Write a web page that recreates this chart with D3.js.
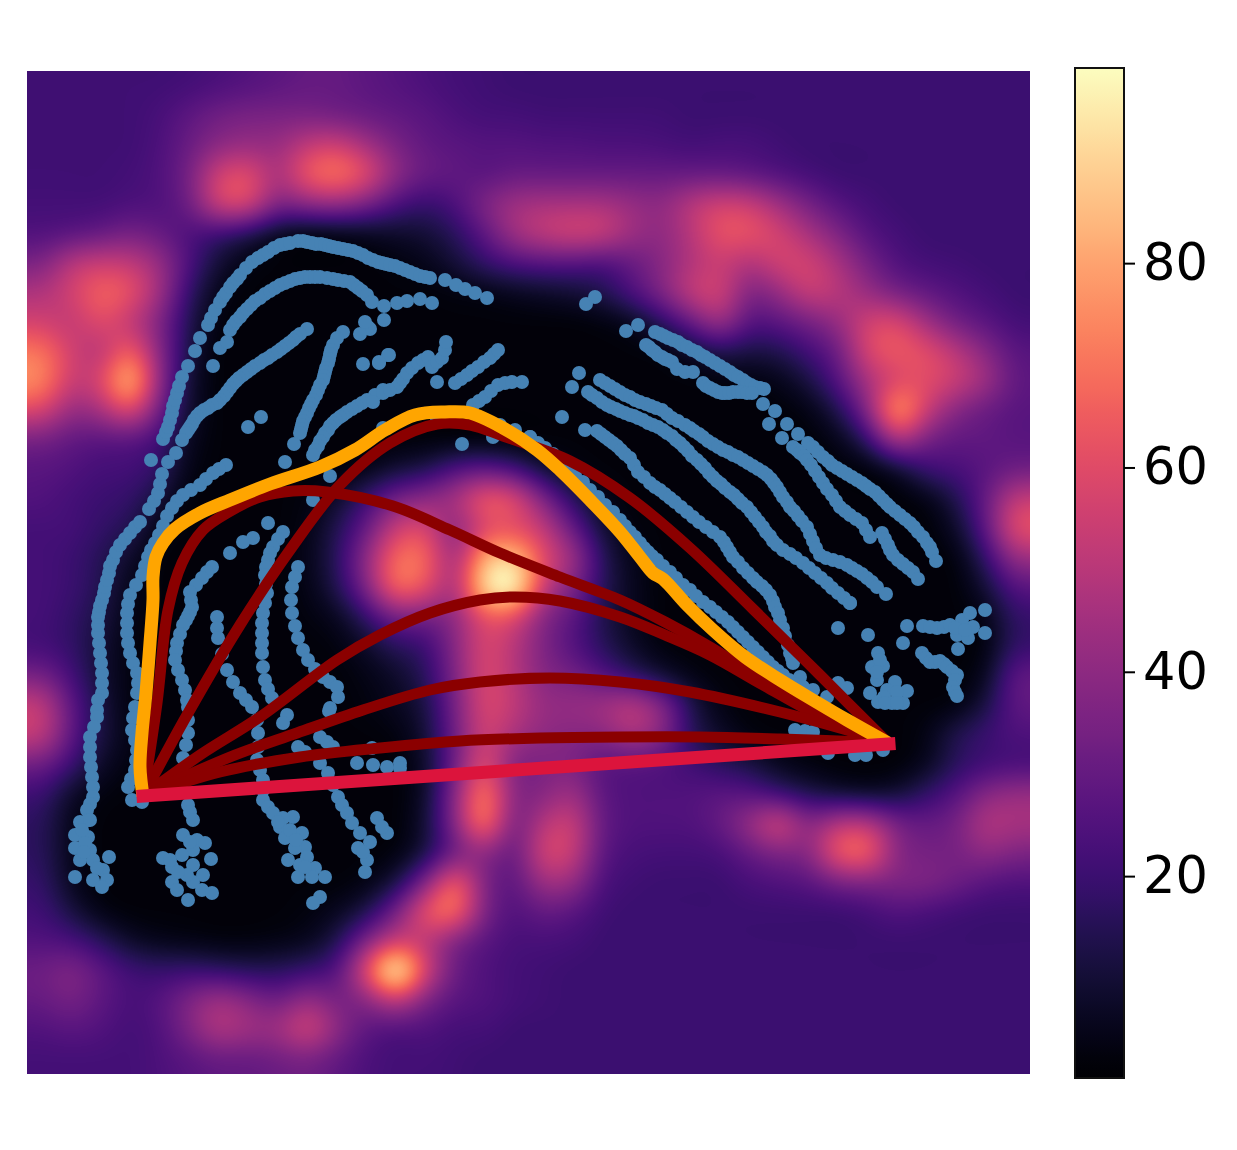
<!DOCTYPE html>
<html><head><meta charset="utf-8">
<style>html,body{margin:0;padding:0;background:#fff}svg{display:block}text{font-family:"DejaVu Sans",sans-serif}</style>
<script src="https://cdn.jsdelivr.net/npm/d3@7"></script>
</head><body><div id="chart"></div>
<script>
const heatRows = [
[21,21,21,21,21,22,24,26,28,30,30,28,26,24,22,21,20,20,20,20,20,20,20,20,20,20,20,20,20,20,20,20,20,20],
[21,21,21,21,23,28,33,35,35,35,33,31,29,27,24,22,22,21,21,21,21,21,20,20,20,20,20,20,20,20,20,20,20,20],
[21,21,21,21,24,31,39,42,42,52,55,45,35,29,27,26,26,25,25,24,24,23,22,23,23,21,20,20,20,20,20,20,20,20],
[21,21,21,22,25,34,56,60,46,64,70,60,40,31,29,27,30,30,30,30,30,30,30,30,28,25,22,20,20,20,20,20,20,20],
[22,22,22,24,25,32,56,58,36,40,42,35,24,19,24,36,44,46,46,46,42,40,50,56,54,44,34,26,22,20,20,20,20,20],
[25,27,30,34,30,24,20,14,6,3,4,6,8,10,16,28,44,52,56,54,44,40,50,62,62,56,46,36,26,22,20,20,20,20],
[36,50,54,52,42,24,10,4,2,2,2,2,3,5,10,18,24,26,26,24,30,38,48,54,48,56,56,46,34,25,22,21,20,20],
[48,56,66,62,44,18,5,2,2,2,2,2,2,2,3,4,6,8,10,14,24,36,52,56,36,42,54,50,42,34,29,25,22,20],
[56,52,60,52,36,14,3,2,2,2,2,2,2,2,2,2,2,2,2,3,6,16,30,44,26,28,34,42,56,58,44,33,27,22],
[70,56,50,66,38,12,2,2,2,2,2,2,2,2,2,2,2,2,2,2,2,3,8,14,12,14,22,32,58,64,60,50,38,27],
[74,54,58,84,40,10,2,2,2,2,2,2,2,2,2,2,2,2,2,2,2,2,2,3,3,5,12,26,46,58,60,54,44,29],
[58,42,46,60,32,9,2,2,2,2,2,2,2,2,2,2,2,2,2,2,2,2,2,2,2,2,4,14,38,78,54,38,31,27],
[34,29,27,27,21,6,2,2,2,2,2,2,2,2,2,2,2,2,2,2,2,2,2,2,2,2,2,5,18,48,34,29,29,27],
[27,25,22,22,17,4,2,2,2,2,2,4,10,14,24,28,22,10,4,2,2,2,2,2,2,2,2,2,2,8,20,23,27,32],
[25,22,20,18,10,2,2,2,2,3,8,20,34,40,46,64,60,36,16,5,2,2,2,2,2,2,2,2,2,2,4,14,30,52],
[22,22,18,14,4,2,2,2,2,4,14,30,54,58,38,58,60,52,30,10,3,2,2,2,2,2,2,2,2,2,2,8,28,60],
[22,20,15,8,2,2,2,2,2,5,16,40,68,68,44,82,88,60,44,16,5,2,2,2,2,2,2,2,2,2,2,3,18,42],
[22,20,14,5,2,2,2,2,2,4,14,36,68,62,46,92,100,54,36,16,6,2,2,2,2,2,2,2,2,2,2,2,10,26],
[22,18,12,4,2,2,2,2,2,3,6,18,34,34,40,62,60,38,28,14,6,2,2,2,2,2,2,2,2,2,2,2,4,18],
[22,18,10,3,2,2,2,2,2,2,3,8,16,20,38,58,50,36,26,16,8,3,2,2,2,2,2,2,2,2,2,2,3,18],
[34,22,10,3,2,2,2,2,2,2,2,4,8,16,36,58,50,38,34,26,18,10,4,2,2,2,2,2,2,2,2,2,6,28],
[52,28,12,3,2,2,2,2,2,2,2,3,6,12,34,58,52,42,42,44,50,38,14,4,2,2,2,2,2,2,2,3,12,28],
[52,28,12,4,2,2,2,2,2,2,2,2,3,10,32,56,46,40,38,38,46,38,16,8,3,2,2,2,2,2,4,14,20,24],
[32,20,8,3,2,2,2,2,2,2,2,2,2,8,32,60,36,36,36,27,27,25,21,16,12,6,3,2,2,2,6,16,21,23],
[20,8,3,2,2,2,2,2,2,2,2,2,2,8,38,72,38,38,44,28,25,25,25,27,26,20,14,10,8,10,18,26,38,42],
[16,5,2,2,2,2,2,2,2,2,2,2,2,10,38,72,34,50,54,30,25,25,25,30,42,56,38,50,50,34,30,34,48,46],
[16,5,2,2,2,2,2,2,2,2,2,2,3,12,32,40,30,56,54,28,23,22,22,23,30,36,38,64,66,38,34,34,40,36],
[18,6,2,2,2,2,2,2,2,2,2,4,12,36,66,36,28,44,42,24,21,20,20,20,23,25,27,34,36,36,36,32,27,25],
[21,12,4,2,2,2,2,2,2,3,6,14,34,62,70,36,25,30,27,21,20,20,20,20,20,20,20,20,22,25,23,21,20,20],
[25,23,16,8,5,4,3,3,4,6,14,36,54,50,36,27,23,23,22,20,20,20,20,20,20,20,20,20,20,20,20,20,20,20],
[32,36,28,21,19,20,18,16,16,20,26,60,100,58,32,25,22,21,20,20,20,20,20,20,20,20,20,20,20,20,20,20,20,20],
[30,34,28,23,26,36,44,38,32,42,34,38,52,36,27,25,22,21,20,20,20,20,20,20,20,20,20,20,20,20,20,20,20,20],
[25,27,25,22,25,36,48,44,44,56,40,28,25,25,22,22,20,20,20,20,20,20,20,20,20,20,20,20,20,20,20,20,20,20],
[22,22,22,22,24,27,30,30,32,34,29,24,22,22,21,20,20,20,20,20,20,20,20,20,20,20,20,20,20,20,20,20,20,20]
];
const colorDomain = [0.2, 99.1];
const colorTicks = [20, 40, 60, 80];

const leftTrack = [[102,693],[102,683],[102,673],[101,663],[100,653],[99,643],[98,633],[98,625],[98,617],[99,612],[100,606],[102,600],[104,593],[105,587],[107,580],[109,573],[110,566],[113,560],[116,552],[120,545],[125,539],[130,533],[135,527],[140,522],[98,700],[97,710],[97,717],[94,727],[90,737],[90,747],[90,757],[91,767],[92,777],[93,787],[93,797],[90,804],[87,810],[88,820]];
const outerTop = [[149,509],[154,501],[158,493],[160,484],[162,474],[168,462],[176,453],[151,460],[163,439],[166,432],[168,427],[170,420],[172,413],[173,406],[175,400],[177,393],[179,386],[182,377],[188,366],[195,351],[200,338],[208,325],[211,318],[215,310],[220,302],[223,297],[226,293],[230,287],[233,283],[237,279],[240,275],[246,268],[252,262],[258,258],[263,255],[268,252],[274,248],[280,245],[285,244],[290,243],[298,241],[303,241],[307,242],[312,243],[316,244],[321,244],[325,245],[329,246],[333,247],[338,248],[343,249],[348,250],[353,251],[358,253],[363,255],[368,258],[373,260],[378,262],[382,263],[386,264],[390,265],[395,266],[400,268],[405,270],[410,272],[415,274],[420,276],[425,277],[430,278],[445,280],[456,285],[465,289],[475,293],[487,298]];
const secondTop = [[220,348],[227,342],[230,330],[233,325],[236,321],[240,317],[243,313],[247,309],[251,305],[255,301],[260,298],[265,294],[270,291],[275,288],[280,285],[285,283],[290,281],[295,279],[300,278],[305,277],[310,277],[315,277],[320,277],[327,278],[333,279],[338,280],[344,281],[350,282],[354,285],[358,288],[362,291],[367,295],[372,302],[384,306],[397,303],[407,301],[420,299],[432,303],[384,320],[370,329],[368,327],[360,334],[365,322]];
const thirdTop = [[307,329],[300,334],[296,337],[293,340],[289,343],[285,346],[281,349],[277,352],[272,355],[268,358],[264,360],[260,363],[255,366],[251,369],[247,372],[243,375],[239,378],[236,381],[233,384],[230,388],[227,392],[224,396],[220,400],[217,403],[212,405],[208,408],[204,410],[200,413],[197,416],[194,420],[192,424],[190,427],[188,430],[186,433],[182,440],[213,366],[248,427],[261,417]];
const fourthTop = [[343,332],[337,338],[333,345],[331,350],[330,354],[329,359],[328,363],[326,368],[325,372],[324,376],[323,380],[320,385],[318,390],[316,395],[313,400],[311,404],[309,408],[307,413],[305,417],[303,421],[302,425],[301,429],[300,433],[294,444],[285,462],[363,364],[379,363],[388,355]];
const innerLeft = [[226,465],[219,469],[213,473],[206,479],[200,485],[191,490],[183,495],[177,501],[172,508],[167,516],[163,526],[159,535],[155,543],[151,550],[148,557],[145,566],[142,575],[136,585],[130,595],[128,604],[127,613],[127,623],[127,633],[128,643],[130,653],[133,663],[137,673],[138,683],[137,693],[135,707],[133,718],[132,730],[135,740],[137,750],[136,760],[135,770],[131,779],[128,787],[132,800],[142,802]];
const arcCenter = [[383,390],[375,395],[367,400],[362,403],[357,406],[352,409],[347,412],[343,415],[340,417],[336,420],[333,423],[330,426],[328,430],[325,433],[323,437],[320,441],[318,446],[315,450],[313,455],[330,476],[313,500],[373,402],[383,393],[390,390],[397,387],[400,383],[403,379],[407,373],[412,368],[418,363],[423,360],[428,357],[432,367],[437,362],[442,358],[445,350],[446,342],[389,355],[379,362],[437,382],[455,383],[461,379],[467,375],[472,371],[478,367],[484,362],[490,358],[494,354],[498,350],[473,405],[479,401],[485,397],[491,391],[498,385],[505,383],[512,382],[522,382],[383,428],[437,420],[462,444],[493,437],[530,437],[579,373],[572,387],[562,417],[586,304],[595,297]];
const upperRightA = [[626,331],[638,325],[655,332],[660,334],[664,336],[668,338],[673,340],[678,342],[682,345],[687,347],[692,350],[697,352],[701,355],[705,357],[710,360],[715,363],[720,366],[725,369],[730,372],[734,375],[738,377],[743,380],[747,383],[751,385],[755,387],[760,388],[764,389],[646,345],[649,347],[652,350],[655,352],[658,355],[662,357],[665,359],[668,360],[672,362],[677,369],[685,372],[693,372],[703,383],[706,386],[710,388],[714,390],[718,392],[722,393],[725,393],[729,393],[733,392],[738,392],[742,392],[747,393],[752,393]];
const upperRightB = [[763,404],[775,411],[769,424],[787,424],[782,438],[798,434],[808,443],[813,447],[818,452],[823,457],[828,461],[832,465],[837,468],[842,471],[847,474],[852,477],[857,480],[862,483],[866,486],[870,489],[875,492],[879,496],[883,500],[887,504],[890,507],[895,511],[900,515],[905,519],[910,523],[914,527],[918,532],[923,537],[927,543],[930,547],[932,552],[936,561]];
const upperRightC = [[793,447],[797,450],[800,453],[804,456],[807,460],[811,465],[815,471],[819,477],[823,483],[827,489],[832,495],[836,501],[840,507],[845,511],[850,515],[856,519],[862,523],[866,530],[870,537],[882,533],[885,539],[888,545],[890,550],[893,555],[898,560],[903,564],[908,568],[913,572],[918,579]];
const midTrackA = [[600,380],[605,383],[610,386],[615,389],[620,392],[625,395],[630,397],[635,400],[640,402],[646,404],[651,406],[656,408],[662,410],[667,414],[672,418],[678,421],[685,425],[690,428],[694,431],[699,434],[703,437],[708,441],[713,444],[718,447],[723,450],[728,452],[733,455],[738,457],[743,460],[748,463],[753,466],[758,469],[763,472],[767,475],[771,479],[774,483],[777,487],[780,492],[783,497],[787,502],[790,507],[794,511],[798,516],[802,521],[807,527],[810,534],[813,541],[816,548],[820,555],[826,558],[833,560],[840,562],[847,565],[852,568],[857,571],[862,574],[867,578],[872,582],[877,587],[886,594]];
const midTrackB = [[588,392],[592,395],[597,398],[602,402],[607,405],[611,407],[616,409],[620,411],[625,413],[630,415],[634,416],[638,418],[643,420],[648,423],[653,425],[658,427],[663,430],[667,433],[672,436],[676,440],[680,443],[684,447],[688,451],[692,456],[697,460],[701,464],[705,468],[709,473],[713,477],[717,481],[721,484],[725,488],[730,492],[734,495],[738,499],[742,503],[747,507],[751,512],[755,517],[759,522],[763,527],[766,532],[770,536],[773,541],[777,545],[783,550],[790,554],[796,558],[803,563],[809,568],[815,573],[821,578],[827,583],[832,588],[838,593],[844,598],[850,603]];
const midTrackC = [[585,430],[597,431],[601,434],[605,437],[609,440],[613,443],[617,446],[621,450],[625,454],[630,458],[634,465],[638,472],[644,477],[650,483],[655,487],[660,490],[665,494],[670,498],[675,502],[681,507],[687,512],[693,517],[699,522],[706,527],[713,532],[720,537],[724,542],[727,547],[730,552],[733,557],[738,562],[743,568],[748,573],[753,578],[757,582],[762,586],[766,590],[770,595],[773,601],[775,607],[778,613],[780,620],[783,628],[785,636],[788,645],[790,653],[792,658],[793,663],[800,677]];
const orangeShadow = [[500,425],[515,430],[530,437],[538,443],[545,448],[553,454],[560,460],[568,467],[575,475],[583,482],[590,490],[598,497],[605,505],[613,512],[620,520],[625,526],[630,532],[635,537],[640,543],[644,548],[648,552],[652,556],[657,560],[663,566],[670,572],[676,578],[683,585],[690,590],[696,596],[703,602],[710,607],[716,612],[722,617],[728,622],[733,627],[738,632],[743,637],[748,642],[753,647],[758,652],[763,657],[768,662],[773,667],[778,671],[783,675],[789,680],[795,684],[803,687],[813,690]];
const rightSingles = [[838,628],[868,635],[850,603],[985,610],[907,626],[903,643],[923,626],[930,627],[937,628],[944,627],[950,625],[957,635],[962,620],[970,613],[973,627],[985,633],[968,638],[958,649],[955,628],[965,630]];
const rightHook = [[922,653],[926,658],[930,662],[935,662],[940,661],[944,664],[947,667],[952,671],[957,675],[955,680],[953,687],[955,692],[957,696]];
const rightCluster = [[878,653],[872,667],[883,666],[877,680],[895,682],[870,693],[878,702],[892,703],[903,703],[907,691],[887,690],[897,692],[880,660],[877,672],[884,697],[885,703],[897,703]];
const rightLow = [[827,697],[838,683],[847,688],[795,730],[805,731],[813,732],[828,753],[855,755],[866,755],[883,750]];
const clusterOne = [[80,822],[90,820],[75,835],[88,837],[75,848],[90,850],[80,860],[93,860],[109,857],[75,877],[103,870],[93,880],[107,880],[102,887],[85,843],[82,830],[84,852],[97,868]];
const clusterTwo = [[183,835],[197,840],[205,843],[193,850],[163,858],[182,855],[211,859],[172,867],[193,865],[203,875],[172,882],[177,890],[188,900],[193,882],[202,890],[212,893],[187,875],[170,860],[178,872],[190,842]];
const trackG = [[212,567],[207,572],[202,578],[196,585],[190,592],[191,600],[192,607],[190,612],[188,616],[186,620],[183,625],[180,634],[177,643],[176,651],[175,660],[178,670],[182,680],[185,690],[187,700],[188,707],[188,720],[188,733],[186,745],[183,758],[188,805],[190,812],[193,820]];
const trackBridge = [[268,523],[253,538],[243,542],[230,553],[283,532],[278,539],[273,547],[270,553],[268,560],[266,567],[265,575],[266,584],[267,593],[265,603],[263,613],[262,623],[262,633],[262,643],[262,653],[263,667],[265,680],[268,689],[272,698]];
const trackH = [[298,567],[295,577],[292,587],[291,600],[292,613],[295,626],[298,638],[303,650],[308,660],[315,669],[323,677],[330,682],[337,687],[338,697],[330,708]];
const trackI = [[217,617],[217,628],[218,638],[222,654],[227,670],[233,682],[240,693],[246,700],[252,707],[257,720],[258,733],[258,747],[257,760],[260,770],[263,780],[263,790],[263,800],[268,807],[273,813],[293,817],[280,827],[285,838],[302,833],[305,847],[288,860],[307,857],[298,877],[315,868],[325,877],[320,897],[313,903],[312,877],[295,848],[300,865],[283,818],[278,822],[290,830],[296,840],[305,867]];
const trackJ = [[287,715],[283,723],[298,747],[305,752],[320,737],[327,742],[333,747],[320,763],[328,773],[333,785],[338,797],[342,805],[347,813],[352,823],[360,833],[358,848],[370,842],[367,860],[365,872],[377,818],[387,833],[329,711],[372,748],[357,763],[373,765],[387,767],[400,763],[400,768],[382,827],[363,852]];

const groupedPoints = [leftTrack,outerTop,secondTop,thirdTop,fourthTop,innerLeft,arcCenter,upperRightA,upperRightB,upperRightC,midTrackA,midTrackB,midTrackC,orangeShadow,rightSingles,rightHook,rightCluster,rightLow,clusterOne,clusterTwo,trackG,trackBridge,trackH,trackI,trackJ];

const pathRed1 = [[143,796],[187,715],[240,625],[290,550],[340,485],[390,443],[437,424],[470,425],[503,436],[570,461],[630,498],[690,548],[753,609],[820,675],[888,743]];
const pathRed2 = [[143,796],[157,703],[168,610],[182,563],[203,530],[227,513],[260,497],[293,491],[327,492],[393,506],[450,530],[500,553],[560,577],[620,600],[665,622],[710,647],[763,680],[813,706],[888,743]];
const pathRed3 = [[143,796],[200,755],[260,717],[337,660],[380,635],[430,613],[480,600],[515,597],[560,601],[620,617],[665,635],[710,655],[763,685],[820,716],[888,743]];
const pathRed4 = [[143,796],[230,757],[297,733],[363,710],[430,690],[480,682],[550,678],[620,682],[690,692],[780,712],[847,730],[888,743]];
const pathRed5 = [[143,796],[220,772],[300,757],[380,748],[460,741],[540,738],[620,737],[700,737],[780,739],[888,743]];
const pathOrange = [[143,796],[140,767],[142,733],[146,693],[150,643],[153,600],[153,577],[156,557],[163,543],[175,529],[200,513],[230,500],[270,484],[320,467],[355,450],[385,430],[415,415],[445,412],[470,413],[503,428],[537,450],[560,470],[590,500],[620,532],[640,557],[653,573],[663,579],[687,605],[713,630],[745,657],[780,680],[813,700],[847,720],[888,743]];
const pathStraight = [[143,796],[889,744]];

const W = 1237, H = 1150;
const plot = {x0:27, x1:1030, y0:71, y1:1074};
const bar = {x0:1075, x1:1124, y0:68, y1:1078};

const x = d3.scaleLinear().domain([plot.x0,plot.x1]).range([plot.x0,plot.x1]);
const y = d3.scaleLinear().domain([plot.y0,plot.y1]).range([plot.y0,plot.y1]);
const color = d3.scaleSequential(d3.interpolateMagma).domain(colorDomain);
const cbY = d3.scaleLinear().domain([0.24, 99.1]).range([bar.y1, bar.y0]);

const svg = d3.select("#chart").append("svg").attr("width",W).attr("height",H);

// heat image: display upsampling (Catmull-Rom) then a light blur, as an image's interpolation would
const nR = heatRows.length, nC = heatRows[0].length;
const pw = plot.x1-plot.x0, ph = plot.y1-plot.y0;
function cr(a,b,c,d,t){return b+0.5*t*(c-a+t*(2*a-5*b+4*c-d+t*(3*(b-c)+d-a)));}
const at=(r,c)=>heatRows[Math.max(0,Math.min(nR-1,r))][Math.max(0,Math.min(nC-1,c))];
let field = new Float32Array(pw*ph);
for(let j=0;j<ph;j++){
  const fy=(j+.5)/ph*nR-.5, r=Math.floor(fy), ty=fy-r;
  for(let i=0;i<pw;i++){
    const fx=(i+.5)/pw*nC-.5, c=Math.floor(fx), tx=fx-c;
    const row=k=>cr(at(r+k,c-1),at(r+k,c),at(r+k,c+1),at(r+k,c+2),tx);
    field[j*pw+i]=cr(row(-1),row(0),row(1),row(2),ty);
  }
}
const sigma=12, rad=30;
const kern=d3.range(-rad,rad+1).map(k=>Math.exp(-k*k/(2*sigma*sigma)));
const ks=d3.sum(kern); kern.forEach((v,k)=>kern[k]=v/ks);
let tmp=new Float32Array(pw*ph);
for(let j=0;j<ph;j++)for(let i=0;i<pw;i++){
  let s=0;for(let k=-rad;k<=rad;k++){s+=kern[k+rad]*field[j*pw+Math.max(0,Math.min(pw-1,i+k))];}
  tmp[j*pw+i]=s;
}
for(let j=0;j<ph;j++)for(let i=0;i<pw;i++){
  let s=0;for(let k=-rad;k<=rad;k++){s+=kern[k+rad]*tmp[Math.max(0,Math.min(ph-1,j+k))*pw+i];}
  field[j*pw+i]=s;
}
const cnv = document.createElement("canvas"); cnv.width=pw; cnv.height=ph;
const ctx = cnv.getContext("2d");
const img = ctx.createImageData(pw,ph);
const lut = d3.range(1001).map(i=>d3.rgb(color(colorDomain[0]+(colorDomain[1]-colorDomain[0])*i/1000)));
for(let o=0;o<pw*ph;o++){
  const q=Math.max(0,Math.min(1000,Math.round((field[o]-colorDomain[0])/(colorDomain[1]-colorDomain[0])*1000)));
  const col=lut[q];
  img.data[o*4]=col.r;img.data[o*4+1]=col.g;img.data[o*4+2]=col.b;img.data[o*4+3]=255;
}
ctx.putImageData(img,0,0);
svg.append("image").attr("x",plot.x0).attr("y",plot.y0).attr("width",pw).attr("height",ph)
  .attr("href",cnv.toDataURL());

// points
svg.append("g").selectAll("g").data(groupedPoints).join("g")
  .selectAll("circle").data(d=>d).join("circle")
  .attr("cx",d=>x(d[0])).attr("cy",d=>y(d[1])).attr("r",7).attr("fill","#4682b4");

// paths
const line = d3.line().x(d=>x(d[0])).y(d=>y(d[1])).curve(d3.curveCatmullRom.alpha(0.5));
const lines = svg.append("g").attr("fill","none").attr("stroke-linejoin","round");
[pathRed1,pathRed2,pathRed3,pathRed4,pathRed5].forEach(p=>
  lines.append("path").attr("d",line(p)).attr("stroke","#8b0000").attr("stroke-width",11));
lines.append("path").attr("d",line(pathOrange)).attr("stroke","#ffa500").attr("stroke-width",13);
lines.append("path").attr("d",line(pathStraight)).attr("stroke","#dc143c").attr("stroke-width",13).attr("stroke-linecap","square");

// colour bar
const defs = svg.append("defs");
const grad = defs.append("linearGradient").attr("id","cb").attr("x1",0).attr("x2",0).attr("y1",1).attr("y2",0);
d3.range(0,1.0001,0.02).forEach(t=>grad.append("stop").attr("offset",t).attr("stop-color",d3.interpolateMagma(t)));
svg.append("rect").attr("x",bar.x0).attr("y",bar.y0).attr("width",bar.x1-bar.x0).attr("height",bar.y1-bar.y0)
  .attr("fill","url(#cb)").attr("stroke","#111").attr("stroke-width",2);
const axis = d3.axisRight(cbY).tickValues(colorTicks).tickSize(11).tickPadding(8).tickFormat(d3.format("d"));
const ag = svg.append("g").attr("transform",`translate(${bar.x1},0)`).call(axis);
ag.select(".domain").remove();
ag.selectAll("line").attr("stroke","#000").attr("stroke-width",2);
ag.selectAll("text").attr("font-size",51).attr("font-family",'"DejaVu Sans",sans-serif').attr("fill","#000");
</script></body></html>
